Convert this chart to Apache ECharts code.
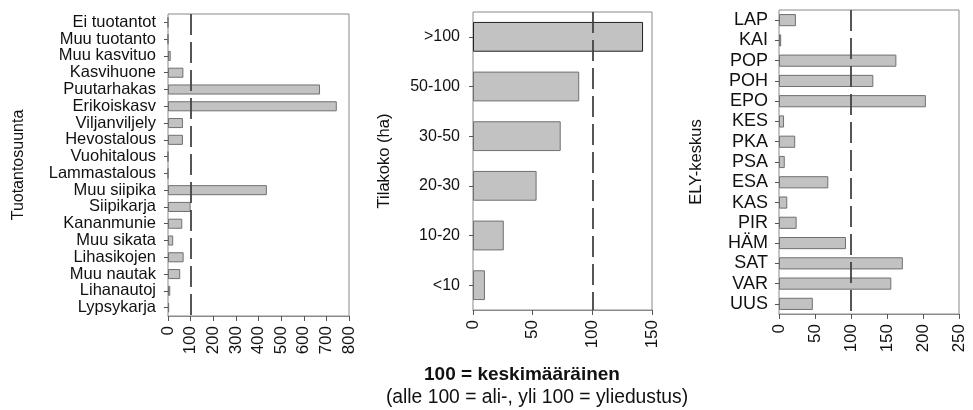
<!DOCTYPE html>
<html>
<head>
<meta charset="utf-8">
<script src="https://cdn.jsdelivr.net/npm/echarts@6/dist/echarts.min.js"></script>
<style>
html,body{margin:0;padding:0;background:#fff;}
#c{width:973px;height:410px;}
</style>
</head>
<body>
<div id="c"></div>
<script>
// Panel 1: Tuotantosuunta
const prodCategories = ["Ei tuotantot","Muu tuotanto","Muu kasvituo","Kasvihuone","Puutarhakas","Erikoiskasv","Viljanviljely","Hevostalous","Vuohitalous","Lammastalous","Muu siipika","Siipikarja","Kananmunie","Muu sikata","Lihasikojen","Muu nautak","Lihanautoj","Lypsykarja"];
const prodValues = [0,0,12,68,672,746,66,66,0,0,437,100,63,23,69,54,10,5];
// Panel 2: Tilakoko (ha)
const sizeCategories = [">100","50-100","30-50","20-30","10-20","<10"];
const sizeValues = [142.5,89,73.5,53.3,25.8,10];
// Panel 3: ELY-keskus
const elyCategories = ["LAP","KAI","POP","POH","EPO","KES","PKA","PSA","ESA","KAS","PIR","HÄM","SAT","VAR","UUS"];
const elyValues = [23.5,3,163,131,204,7,22.5,8,68.5,11.5,24.5,93,172,156,47];
// Axis ranges
const prodAxis = {max:800, interval:100};
const sizeAxis = {max:150, interval:50};
const elyAxis = {max:250, interval:50};
const refValue = 100;
const titleLine1 = "100 = keskimääräinen";
const titleLine2 = "(alle 100 = ali-, yli 100 = yliedustus)";

const FONT = "Liberation Sans, Arial, sans-serif";
const chart = echarts.init(document.getElementById('c'), null, {renderer:'canvas'});

const grids = [
  {left:168, top:14, width:181, height:302},
  {left:473, top:12, width:179, height:298},
  {left:779, top:10, width:180, height:304}
];
const ax = [prodAxis, sizeAxis, elyAxis];
const cats = [prodCategories, sizeCategories, elyCategories];
const vals = [prodValues, sizeValues, elyValues];
const names = ["Tuotantosuunta","Tilakoko (ha)","ELY-keskus"];
const nameGaps = [141, 80, 74];
const nameSizes = [16, 16.5, 16.5];
const labelSizes = [16.5, 16, 18];
const labelMargins = [12, 13, 11];

const option = {
  animation:false,
  backgroundColor:'#fff',
  grid: grids.map(g => Object.assign({show:true, borderColor:'#8a8a8a', borderWidth:1, backgroundColor:'transparent', containLabel:false}, g)),
  xAxis: ax.map((a,i) => ({
    type:'value', gridIndex:i, min:0, max:a.max, interval:a.interval,
    axisLine:{show:true, lineStyle:{color:'#8a8a8a'}},
    axisTick:{show:true, length:5, lineStyle:{color:'#555'}},
    splitLine:{show:false},
    axisLabel:{rotate:90, margin:10, fontSize:17, color:'#111', fontFamily:FONT, interval:0}
  })),
  yAxis: cats.map((c,i) => ({
    type:'category', gridIndex:i, data:c, inverse:true,
    axisLine:{show:false},
    axisTick:{show:true, alignWithLabel:true, length:4, lineStyle:{color:'#555'}},
    axisLabel:{fontSize:labelSizes[i], color:'#111', fontFamily:FONT, margin:labelMargins[i], interval:0},
    name:names[i], nameLocation:'middle', nameRotate:90, nameGap:nameGaps[i],
    nameTextStyle:{fontSize:nameSizes[i], color:'#111', fontFamily:FONT}
  })),
  series: vals.map((v,i) => ({
    type:'bar', xAxisIndex:i, yAxisIndex:i,
    data: v.map((d,j) => (i===1 && j===0) ? {value:d, itemStyle:{borderColor:'#222'}} : d),
    barWidth:'60%',
    itemStyle:{color:'#c2c2c2', borderColor:'#707070', borderWidth:1},
    markLine:{
      silent:true, symbol:['none','none'], label:{show:false},
      lineStyle:{color:'#444', type:[21,7], width:1.8},
      data:[{xAxis:refValue}]
    }
  })),
  graphic:[
    {type:'text', style:{text:titleLine1, x:522, y:375, textAlign:'center', textVerticalAlign:'middle', font:'bold 19px ' + FONT, fill:'#111'}},
    {type:'text', style:{text:titleLine2, x:537, y:398, textAlign:'center', textVerticalAlign:'middle', font:'19.3px ' + FONT, fill:'#111'}}
  ]
};
chart.setOption(option);
</script>
</body>
</html>
